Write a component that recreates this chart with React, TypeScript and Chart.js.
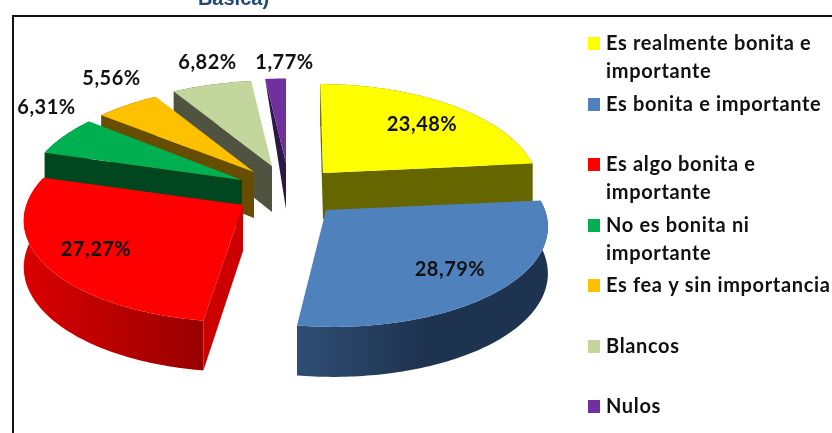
import React, { useEffect, useRef } from "react";
import { Chart, registerables } from "chart.js";

Chart.register(...registerables);

const categories = [
  "Es realmente bonita e importante",
  "Es bonita e importante",
  "Es algo bonita e importante",
  "No es bonita ni importante",
  "Es fea y sin importancia",
  "Blancos",
  "Nulos",
];
const legendLines = [
  ["Es realmente bonita e", "importante"],
  ["Es bonita e importante"],
  ["Es algo bonita e", "importante"],
  ["No es bonita ni", "importante"],
  ["Es fea y sin importancia"],
  ["Blancos"],
  ["Nulos"],
];
const values = [23.48, 28.79, 27.27, 6.31, 5.56, 6.82, 1.77];
const topColors = ["#ffff00", "#4f81bd", "#ff0000", "#00b050", "#ffc000", "#c3d69b", "#7030a0"];
const faceColors = ["#666600", "#1f3350", "#cc0000", "#00461f", "#664d00", "#4f533f", "#2c1745"];
const wallStops: [number, string][][] = [
  [[0, "#666600"], [1, "#666600"]],
  [[0, "#2f4e74"], [0.5, "#1e3350"], [1, "#1e3350"]],
  [[0, "#da0000"], [1, "#980000"]],
  [[0, "#00461f"], [1, "#00461f"]],
  [[0, "#664d00"], [1, "#664d00"]],
  [[0, "#4f533f"], [1, "#4f533f"]],
  [[0, "#2c1745"], [1, "#2c1745"]],
];

// Layout of the exploded, perspective view
const apexX = [323, 326, 243, 242, 254, 272, 286];
const apexY = [173, 210, 205, 180, 172, 166, 163];
const widthScale = [0.97, 0.995, 0.985, 0.97, 0.97, 0.97, 0.97];
const heightScale = [1, 1, 1, 1, 0.97, 0.96, 0.95];
const shear = [0.03, 0.06, -0.035, 0, 0, 0, 0];
const rimDepthScale = [1, 1, 1, 1, 1, 1, 0];
const paintOrder = [6, 5, 4, 3, 2, 0, 1];
const labelX = [422, 450, 96, 46.5, 111.5, 207.5, 284.5];
const labelY = [125, 270, 250, 108, 79, 62.5, 62.5];
const RX = 220;
const RY = 101;
const PERSP = 0.136;
const FONT = "Lato, Carlito, sans-serif";

const view3d = {
  id: "view3d",
  beforeDatasetsDraw(chart: any) {
    const ctx: CanvasRenderingContext2D = chart.ctx;
    const arcs = chart.getDatasetMeta(0).data;
    ctx.save();
    paintOrder.forEach((i) => {
      const a = arcs[i].getProps(["startAngle", "endAngle"], true);
      const t0 = a.startAngle + Math.PI / 2;
      const t1 = a.endAngle + Math.PI / 2;
      const rim = (t: number, down: boolean) => {
        const u = Math.sin(t);
        const v = -Math.cos(t);
        const w = 1 - PERSP * v;
        const dy = (heightScale[i] * RY * v) / w;
        return {
          x: apexX[i] + (widthScale[i] * RX * u) / w + shear[i] * dy,
          y: apexY[i] + dy + (down ? 46 + 4 * v : 0),
        };
      };
      const n = Math.max(4, Math.ceil(((t1 - t0) * 180) / Math.PI));
      const top: { x: number; y: number }[] = [];
      const bottom: { x: number; y: number }[] = [];
      for (let k = 0; k <= n; k++) {
        const t = t0 + ((t1 - t0) * k) / n;
        top.push(rim(t, false));
        bottom.push(rim(t, true));
      }
      const A = { x: apexX[i], y: apexY[i] };
      const Ad = { x: apexX[i], y: apexY[i] + 46 };
      const poly = (pts: { x: number; y: number }[], fill: any) => {
        ctx.beginPath();
        pts.forEach((p, j) => (j ? ctx.lineTo(p.x, p.y) : ctx.moveTo(p.x, p.y)));
        ctx.closePath();
        ctx.fillStyle = fill;
        ctx.fill();
      };
      // outer wall
      const xs = bottom.map((p) => p.x);
      const g = ctx.createLinearGradient(Math.min(...xs), 0, Math.max(...xs), 0);
      wallStops[i].forEach(([o, c]) => g.addColorStop(o, c));
      if (rimDepthScale[i]) poly([...top, ...bottom.slice().reverse()], g);
      // cut faces
      const mid = top[Math.floor(n / 2)];
      const faces = [top[0], top[n]];
      const lowers = [bottom[0], bottom[n]];
      faces.forEach((P, f) => {
        const dx = P.x - A.x;
        const dy = P.y - A.y;
        const side = dx * (mid.y - A.y) - dy * (mid.x - A.x);
        const down = dx * 46;
        if (side * down < 0) {
          const L = rimDepthScale[i] ? lowers[f] : P;
          poly([A, P, L, Ad], faceColors[i]);
        }
      });
      // top surface
      poly([A, ...top], topColors[i]);
    });
    ctx.restore();
    return false;
  },
  afterDraw(chart: any) {
    const ctx: any = chart.ctx;
    ctx.save();
    // frame
    ctx.fillStyle = "#111111";
    ctx.fillRect(12, 15, 820, 2);
    ctx.fillRect(12, 15, 2, 418);
    // clipped title line above the frame
    ctx.fillStyle = "#1f497d";
    ctx.font = "bold 20px 'Liberation Sans', Arial, sans-serif";
    ctx.textAlign = "center";
    ctx.textBaseline = "alphabetic";
    ctx.fillText("Básica)", 233.5, 5);
    // value labels
    ctx.font = `bold 20px ${FONT}`;
    ctx.letterSpacing = "0.5px";
    ctx.textBaseline = "middle";
    ctx.fillStyle = "#111111";
    values.forEach((val, i) => {
      ctx.fillText(`${val.toFixed(2).replace(".", ",")}%`, labelX[i], labelY[i]);
    });
    // legend
    ctx.textAlign = "left";
    ctx.font = `bold 20px ${FONT}`;
    ctx.letterSpacing = "0.65px";
    categories.forEach((_, i) => {
      const y = 43 + 60.5 * i;
      ctx.fillStyle = topColors[i];
      ctx.fillRect(588, Math.round(y) - 6, 12, 13);
      ctx.fillStyle = "#111111";
      legendLines[i].forEach((line, l) => ctx.fillText(line, 606, y + 1 + l * 28));
    });
    ctx.restore();
  },
};

export default function App() {
  const ref = useRef<HTMLCanvasElement>(null);
  useEffect(() => {
    const chart = new Chart(ref.current as HTMLCanvasElement, {
      type: "pie",
      data: {
        labels: categories,
        datasets: [{ data: values, backgroundColor: topColors, borderWidth: 0 }],
      },
      options: {
        responsive: false,
        animation: false,
        plugins: { legend: { display: false }, tooltip: { enabled: false } },
      },
      plugins: [view3d],
    } as any);
    return () => chart.destroy();
  }, []);
  return (
    <div style={{ position: "fixed", left: 0, top: 0, width: 832, height: 433, background: "#fff" }}>
      <canvas ref={ref} width={832} height={433} style={{ display: "block" }} />
    </div>
  );
}
